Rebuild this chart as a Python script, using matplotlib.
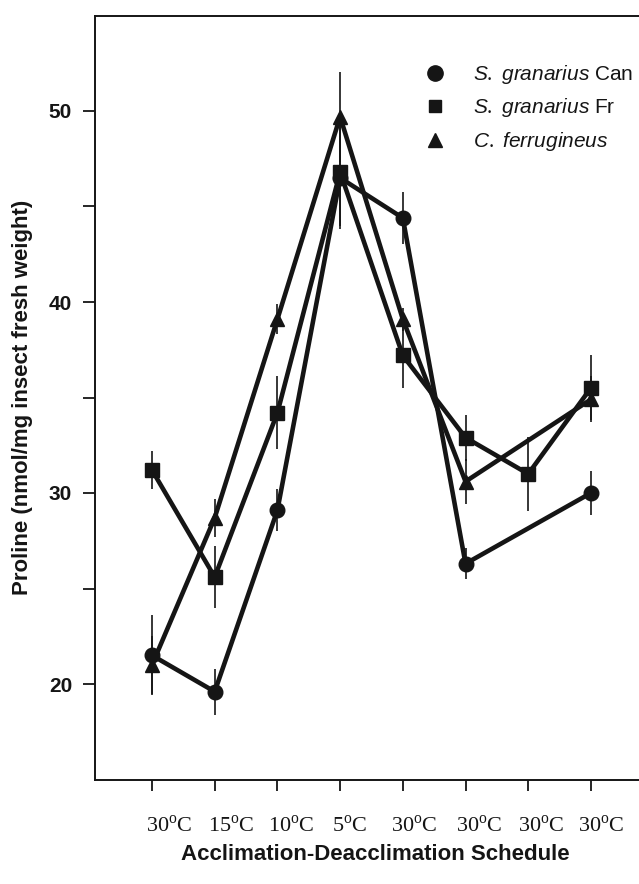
import numpy as np
import matplotlib.pyplot as plt
import matplotlib.transforms as mtransforms
from matplotlib.lines import Line2D

plt.rcParams['font.family'] = 'Liberation Sans'
plt.rcParams['mathtext.fontset'] = 'custom'
plt.rcParams['mathtext.rm'] = 'Liberation Serif'
plt.rcParams['mathtext.it'] = 'Liberation Sans:italic'

ink = '#151515'
dpi = 100

# schedule steps (positions 1..8)
steps = ['30', '15', '10', '5', '30', '30', '30', '30']
xpos = np.arange(1, 9)

# proline, nmol/mg fresh weight (nan = not measured)
can = [21.5, 19.6, 29.1, 46.5, 44.4, 26.3, np.nan, 30.0]
can_err = [2.1, 1.2, 1.1, 2.5, 1.35, 0.8, np.nan, 1.15]
fr = [31.2, 25.6, 34.2, 46.8, 37.2, 32.9, 31.0, 35.5]
fr_err = [1.0, 1.6, 1.9, 3.0, 1.7, 1.2, 1.95, 1.7]
cf = [21.0, 28.7, 39.1, 49.7, 39.1, 30.6, np.nan, 34.9]
cf_err = [1.5, 1.0, 0.8, 2.35, 0.6, 1.2, np.nan, 1.2]

series = [
    (cf, cf_err, '^', 10.5),
    (can, can_err, 'o', 10.5),
    (fr, fr_err, 's', 9.4),
]

fig = plt.figure(figsize=(639 / dpi, 884 / dpi), dpi=dpi)
ax = fig.add_axes([95 / 639, 1 - 779.5 / 884, 560 / 639, 764 / 884])

for vals, errs, mk, ms in series:
    vals = np.asarray(vals)
    errs = np.asarray(errs)
    ok = ~np.isnan(vals)
    ax.errorbar(xpos[ok], vals[ok], yerr=errs[ok], fmt='none', ecolor=ink,
                elinewidth=1.2, capsize=0, zorder=2)
    ax.plot(xpos[ok], vals[ok], color=ink, lw=3.3, marker=mk, ms=ms,
            mfc=ink, mec=ink, zorder=3)

ax.set_xlim(0.091, 9.022)
ax.set_ylim(15, 55)

ax.set_xticks(xpos)
ax.set_xticklabels([s + r'$^{\mathrm{o}}$C' for s in steps],
                   family='Liberation Serif', fontsize=16)
ax.set_yticks(np.arange(20, 51, 5))
ax.set_yticklabels([str(v) if v % 10 == 0 else '' for v in range(20, 51, 5)],
                   fontsize=15, fontweight='bold')
ax.tick_params(axis='x', direction='out', length=8, width=1.3, pad=18, colors=ink)
ax.tick_params(axis='y', direction='out', length=8.5, width=1.3, pad=8, colors=ink)

# the schedule labels sit a little right of their ticks
shifts = [17, 16.5, 13.5, 10, 11, 13.5, 13, 10]
for lab, dx in zip(ax.get_xticklabels(), shifts):
    off = mtransforms.ScaledTranslation(dx / dpi, 0, fig.dpi_scale_trans)
    lab.set_transform(lab.get_transform() + off)

for sp in ax.spines.values():
    sp.set_linewidth(1.4)
    sp.set_color(ink)

ax.set_ylabel('Proline (nmol/mg insect fresh weight)', fontsize=16,
              fontweight='bold', color=ink, va='center', ha='center')
ax.yaxis.set_label_coords((23 - 95) / 560, 0.5)
ax.set_xlabel('Acclimation-Deacclimation Schedule', fontsize=16,
              fontweight='bold', color=ink, va='center', ha='center')
ax.xaxis.set_label_coords(0.5, (779.5 - 855) / 764)

handles = [
    Line2D([], [], ls='none', marker='o', ms=11, color=ink),
    Line2D([], [], ls='none', marker='s', ms=9, color=ink),
    Line2D([], [], ls='none', marker='^', ms=10.5, color=ink),
]
labels = [r'$\mathit{S.\ granarius}$ Can',
          r'$\mathit{S.\ granarius}$ Fr',
          r'$\mathit{C.\ ferrugineus}$']
leg = ax.legend(handles, labels, loc='upper left', frameon=False,
                bbox_to_anchor=(424.6 / 639, 1 - 63 / 884),
                bbox_transform=fig.transFigure, fontsize=15,
                handlelength=1.0, handletextpad=1.33, labelspacing=0.5,
                borderpad=0, borderaxespad=0)
for t in leg.get_texts():
    t.set_color(ink)

fig.savefig('out.png', dpi=dpi)
